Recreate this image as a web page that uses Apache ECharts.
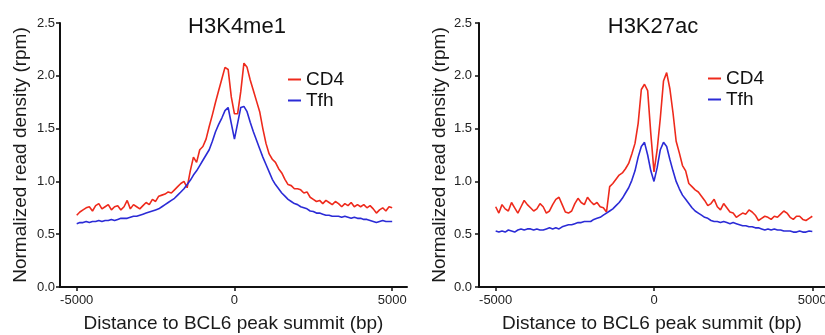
<!DOCTYPE html>
<html>
<head>
<meta charset="utf-8">
<script src="https://cdn.jsdelivr.net/npm/echarts@6/dist/echarts.min.js"></script>
<style>html,body{margin:0;padding:0;background:#fff}#c{width:825px;height:335px}</style>
</head>
<body>
<div id="c"></div>
<script>
// Distance to BCL6 peak summit (bp), sampled every 100 bp
const positions = [-5000,-4900,-4800,-4700,-4600,-4500,-4400,-4300,-4200,-4100,
-4000,-3900,-3800,-3700,-3600,-3500,-3400,-3300,-3200,-3100,
-3000,-2900,-2800,-2700,-2600,-2500,-2400,-2300,-2200,-2100,
-2000,-1900,-1800,-1700,-1600,-1500,-1400,-1300,-1200,-1100,
-1000,-900,-800,-700,-600,-500,-400,-300,-200,-100,
0,100,200,300,400,500,600,700,800,900,
1000,1100,1200,1300,1400,1500,1600,1700,1800,1900,
2000,2100,2200,2300,2400,2500,2600,2700,2800,2900,
3000,3100,3200,3300,3400,3500,3600,3700,3800,3900,
4000,4100,4200,4300,4400,4500,4600,4700,4800,4900,5000];

const panelTitles = ['H3K4me1', 'H3K27ac'];
const seriesNames = ['CD4', 'Tfh'];
const xTickLabels = [-5000, 0, 5000];
const yTickLabels = [0, 0.5, 1.0, 1.5, 2.0, 2.5];

const h3k4me1_CD4 = [0.68,0.71,0.73,0.75,0.76,0.72,0.77,0.79,0.74,0.76,
0.78,0.73,0.76,0.77,0.73,0.76,0.82,0.74,0.78,0.76,
0.74,0.77,0.80,0.78,0.83,0.81,0.86,0.87,0.88,0.90,
0.89,0.92,0.95,0.98,1.00,0.94,1.10,1.23,1.18,1.30,
1.33,1.40,1.52,1.63,1.75,1.86,1.97,2.08,2.06,1.80,
1.64,1.64,1.85,2.12,2.08,1.96,1.86,1.76,1.66,1.50,
1.36,1.26,1.21,1.18,1.12,1.08,1.02,0.97,0.96,0.93,
0.93,0.92,0.89,0.90,0.85,0.83,0.81,0.82,0.79,0.82,
0.80,0.78,0.81,0.79,0.76,0.79,0.77,0.80,0.76,0.78,
0.76,0.78,0.75,0.77,0.74,0.70,0.73,0.75,0.72,0.76,0.75];

const h3k4me1_Tfh = [0.60,0.61,0.61,0.62,0.61,0.62,0.62,0.63,0.62,0.63,
0.63,0.64,0.63,0.64,0.65,0.65,0.65,0.66,0.67,0.67,
0.68,0.69,0.70,0.71,0.72,0.73,0.74,0.76,0.78,0.80,
0.82,0.84,0.87,0.90,0.93,0.97,1.01,1.06,1.10,1.15,
1.20,1.25,1.30,1.38,1.47,1.54,1.60,1.67,1.70,1.55,
1.40,1.55,1.70,1.71,1.66,1.56,1.47,1.39,1.31,1.23,
1.16,1.09,1.02,0.97,0.93,0.89,0.86,0.83,0.81,0.79,
0.78,0.76,0.75,0.74,0.72,0.715,0.70,0.70,0.69,0.68,
0.68,0.67,0.67,0.67,0.66,0.67,0.66,0.65,0.66,0.65,
0.65,0.64,0.64,0.63,0.62,0.61,0.62,0.63,0.62,0.62,0.62];

const h3k27ac_CD4 = [0.76,0.70,0.78,0.74,0.72,0.80,0.75,0.70,0.76,0.82,
0.78,0.75,0.72,0.74,0.79,0.76,0.70,0.72,0.78,0.83,
0.85,0.78,0.71,0.70,0.72,0.79,0.84,0.80,0.78,0.85,
0.81,0.78,0.80,0.76,0.75,0.71,0.95,0.98,1.02,1.06,
1.08,1.12,1.17,1.26,1.36,1.55,1.87,1.92,1.86,1.45,
1.09,1.30,1.60,1.95,2.03,1.88,1.65,1.38,1.27,1.15,
1.10,0.98,0.95,0.92,0.90,0.86,0.82,0.77,0.79,0.83,
0.76,0.73,0.79,0.75,0.71,0.70,0.66,0.68,0.70,0.69,
0.73,0.71,0.68,0.63,0.65,0.67,0.66,0.64,0.67,0.66,
0.69,0.72,0.70,0.66,0.64,0.67,0.67,0.64,0.63,0.65,0.67];

const h3k27ac_Tfh = [0.53,0.52,0.53,0.52,0.54,0.53,0.52,0.54,0.55,0.54,
0.55,0.55,0.54,0.55,0.54,0.54,0.55,0.56,0.55,0.56,
0.55,0.57,0.58,0.59,0.59,0.60,0.61,0.61,0.62,0.62,
0.62,0.64,0.65,0.66,0.68,0.70,0.72,0.74,0.77,0.80,
0.84,0.89,0.94,1.01,1.10,1.23,1.33,1.37,1.25,1.10,
1.00,1.13,1.30,1.37,1.33,1.21,1.10,1.00,0.93,0.87,
0.83,0.79,0.75,0.72,0.70,0.68,0.66,0.65,0.63,0.62,
0.62,0.61,0.62,0.61,0.60,0.61,0.60,0.59,0.58,0.58,
0.57,0.57,0.56,0.56,0.55,0.54,0.55,0.54,0.55,0.54,
0.54,0.53,0.53,0.53,0.52,0.52,0.53,0.52,0.52,0.53,0.525];

const RED = '#ee2a1c', BLUE = '#2b2bd6';
const FONT = 'Liberation Sans, Arial, sans-serif';
const pair = (ys) => positions.map((x, i) => [x, ys[i]]);

const grids = [
  {left: 60, top: 23, width: 347, height: 264, outerBoundsMode: 'none', containLabel: false},
  {left: 479, top: 23, right: 0, height: 264, outerBoundsMode: 'none', containLabel: false}
];
const xRanges = [[-5530, 5470], [-5527, 5401]];
const legendPos = [{left: 288, top: 70}, {left: 708, top: 69}];
const titleX = [232, 648];

function xAxis(i) {
  return {
    type: 'value', gridIndex: i, min: xRanges[i][0], max: xRanges[i][1],
    name: 'Distance to BCL6 peak summit (bp)', nameLocation: 'middle', nameGap: 27,
    nameTextStyle: {fontSize: 19, color: '#1a1a1a', fontFamily: FONT},
    axisLine: {show: true, onZero: false, lineStyle: {color: '#111', width: 2}},
    axisTick: {show: true, length: 4, customValues: xTickLabels, lineStyle: {color: '#111', width: 1.5}},
    axisLabel: {customValues: xTickLabels, fontSize: 13, color: '#222', margin: 7, fontFamily: FONT,
      formatter: v => String(v)},
    splitLine: {show: false}
  };
}
function yAxis(i) {
  return {
    type: 'value', gridIndex: i, min: 0, max: 2.5, interval: 0.5,
    name: 'Normalized read density (rpm)', nameLocation: 'middle', nameGap: 30,
    nameTextStyle: {fontSize: 19, color: '#1a1a1a', fontFamily: FONT},
    axisLine: {show: true, onZero: false, lineStyle: {color: '#111', width: 2}},
    axisTick: {show: true, length: 4, lineStyle: {color: '#111', width: 1.5}},
    axisLabel: {fontSize: 13, color: '#222', margin: i === 0 ? 5 : 7, fontFamily: FONT,
      formatter: v => v.toFixed(1)},
    splitLine: {show: false}
  };
}
const lineSeries = (name, data, color, i) => ({
  type: 'line', name, xAxisIndex: i, yAxisIndex: i, data: pair(data),
  showSymbol: false, symbol: 'none', lineStyle: {color, width: 1.6}, itemStyle: {color},
  z: name === 'Tfh' ? 3 : 2
});

const option = {
  animation: false,
  backgroundColor: '#fff',
  title: panelTitles.map((t, i) => ({
    text: t, left: titleX[i], top: 11, textAlign: 'center',
    textStyle: {fontSize: 22, fontWeight: 'normal', color: '#111', fontFamily: FONT}
  })),
  legend: legendPos.map(p => ({
    data: seriesNames, orient: 'vertical', left: p.left, top: p.top,
    icon: 'rect', itemWidth: 13, itemHeight: 2, itemGap: 2,
    textStyle: {fontSize: 19, color: '#111', fontFamily: FONT, padding: [0, 0, 0, 0]},
    padding: 0, selectedMode: false
  })),
  grid: grids,
  xAxis: [xAxis(0), xAxis(1)],
  yAxis: [yAxis(0), yAxis(1)],
  series: [
    lineSeries('CD4', h3k4me1_CD4, RED, 0),
    lineSeries('Tfh', h3k4me1_Tfh, BLUE, 0),
    lineSeries('CD4', h3k27ac_CD4, RED, 1),
    lineSeries('Tfh', h3k27ac_Tfh, BLUE, 1)
  ]
};
echarts.init(document.getElementById('c'), null, {renderer: 'canvas'}).setOption(option);
</script>
</body>
</html>
